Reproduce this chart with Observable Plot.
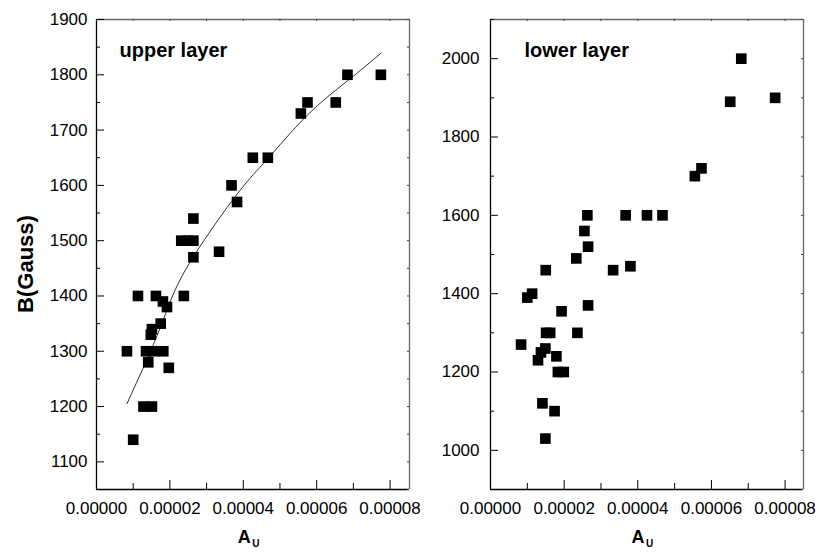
<!DOCTYPE html>
<html><head><meta charset="utf-8">
<script src="https://cdn.jsdelivr.net/npm/d3@7"></script>
<script src="https://cdn.jsdelivr.net/npm/@observablehq/plot@0.6"></script>
<style>
body{margin:0;background:#fff;}
#wrap{position:relative;width:827px;height:557px;font-family:Arial,"Liberation Sans",sans-serif;overflow:hidden;}
.panel{position:absolute;top:0;overflow:visible;}
</style></head><body><div id="wrap"></div>
<script>
// ---- data ----
const upperA = [0.83e-5,1.00e-5,1.13e-5,1.28e-5,1.35e-5,1.41e-5,1.48e-5,1.51e-5,1.51e-5,1.54e-5,1.62e-5,1.75e-5,1.81e-5,1.82e-5,1.92e-5,1.97e-5,2.31e-5,2.38e-5,2.49e-5,2.64e-5,2.64e-5,2.64e-5,3.34e-5,3.68e-5,3.83e-5,4.26e-5,4.67e-5,5.57e-5,5.75e-5,6.52e-5,6.84e-5,7.75e-5];
const upperB = [1300,1140,1400,1200,1300,1280,1330,1340,1200,1300,1400,1350,1390,1300,1380,1270,1500,1400,1500,1500,1540,1470,1480,1600,1570,1650,1650,1730,1750,1750,1800,1800];
const upperFitA = [0.83e-5,1.74e-5,2.44e-5,3.83e-5,4.64e-5,5.73e-5,6.84e-5,7.75e-5];
const upperFitB = [1205,1343,1449,1584,1646,1726,1789,1839];
const lowerA = [0.83e-5,1.00e-5,1.13e-5,1.29e-5,1.37e-5,1.41e-5,1.49e-5,1.49e-5,1.50e-5,1.51e-5,1.62e-5,1.74e-5,1.79e-5,1.83e-5,1.93e-5,1.99e-5,2.33e-5,2.36e-5,2.55e-5,2.63e-5,2.65e-5,2.65e-5,3.33e-5,3.67e-5,3.80e-5,4.25e-5,4.67e-5,5.55e-5,5.73e-5,6.51e-5,6.81e-5,7.73e-5];
const lowerB = [1270,1390,1400,1230,1250,1120,1260,1030,1460,1300,1300,1100,1240,1200,1355,1200,1490,1300,1560,1600,1520,1370,1460,1600,1470,1600,1600,1700,1720,1890,2000,1900];
const xMajorTicks = [0,2e-5,4e-5,6e-5,8e-5];
const xMinorTicks = [1e-5,3e-5,5e-5,7e-5];
const upperYMajor = [1100,1200,1300,1400,1500,1600,1700,1800,1900];
const upperYMinor = [1050,1150,1250,1350,1450,1550,1650,1750,1850];
const lowerYMajor = [1000,1200,1400,1600,1800,2000];
const lowerYMinor = [900,1100,1300,1500,1700,1900,2100];
const upperLabel = "upper layer";
const lowerLabel = "lower layer";
const yTitle = "B(Gauss)";
const xTitle = "A";
const xTitleSub = "U";

const H = 557, MT = 19, MB = 68;
function panel({left, width, ml, mr, xDomain, yDomain, A, B, fitA, fitB, yMajor, yMinor, label, labelDx, yPad}) {
  const innerW = width - ml - mr, innerH = H - MT - MB;
  const pts = A.map((a, i) => ({a, b: B[i]}));
  const marks = [];
  // frame
  marks.push(Plot.ruleY([yDomain[1]], {stroke: "#666", strokeWidth: 1.3}));
  marks.push(Plot.ruleX([xDomain[1]], {stroke: "#666", strokeWidth: 1.3}));
  marks.push(Plot.ruleX([xDomain[0]], {stroke: "#000", strokeWidth: 1.3}));
  marks.push(Plot.ruleY([yDomain[0]], {stroke: "#000", strokeWidth: 1.3}));
  // inward ticks
  marks.push(Plot.tickX(xMajorTicks, {x: d => d, insetTop: innerH - 9, stroke: "#000"}));
  marks.push(Plot.tickX(xMinorTicks, {x: d => d, insetTop: innerH - 6, stroke: "#000"}));
  marks.push(Plot.tickX(xMajorTicks.concat(xMinorTicks), {x: d => d, insetBottom: innerH - 2, stroke: "#444"}));
  marks.push(Plot.tickY(yMajor, {y: d => d, insetRight: innerW - 8, stroke: "#000"}));
  marks.push(Plot.tickY(yMinor, {y: d => d, insetRight: innerW - 4, stroke: "#000"}));
  marks.push(Plot.tickY(yMajor.concat(yMinor), {y: d => d, insetLeft: innerW - 2, stroke: "#444"}));
  // axes labels
  marks.push(Plot.axisX({ticks: xMajorTicks, tickSize: 0, tickPadding: 12, tickFormat: d3.format(".5f"), label: null, fontSize: 17}));
  marks.push(Plot.axisY({ticks: yMajor, tickSize: 0, tickPadding: yPad, tickFormat: d3.format("d"), label: null, fontSize: 17}));
  if (fitA) {
    const fit = fitA.map((a, i) => ({a, b: fitB[i]}));
    marks.push(Plot.line(fit, {x: "a", y: "b", curve: "natural", stroke: "#333", strokeWidth: 1}));
  }
  marks.push(Plot.dot(pts, {x: "a", y: "b", symbol: "square", r: 6, fill: "#000", stroke: "none"}));
  marks.push(Plot.text([label], {frameAnchor: "top-left", text: d => d, dx: labelDx, dy: 31.5, lineAnchor: "middle", textAnchor: "start", fontSize: 20, fontWeight: "bold", fill: "#000"}));
  const svg = Plot.plot({
    width, height: H, marginLeft: ml, marginRight: mr, marginTop: MT, marginBottom: MB,
    x: {domain: xDomain}, y: {domain: yDomain},
    style: {fontFamily: "Arial, 'Liberation Sans', sans-serif", fontSize: "17px", color: "#000", background: "transparent", overflow: "visible"},
    marks
  });
  svg.classList.add("panel");
  svg.style.left = left + "px";
  svg.style.overflow = "visible";
  return svg;
}
const wrap = document.getElementById("wrap");
wrap.appendChild(panel({left: 0, width: 413, ml: 96, mr: 4, xDomain: [0, 8.53e-5], yDomain: [1050, 1900], A: upperA, B: upperB, fitA: upperFitA, fitB: upperFitB, yMajor: upperYMajor, yMinor: upperYMinor, label: upperLabel, labelDx: 23, yPad: 9}));
wrap.appendChild(panel({left: 413, width: 414, ml: 77, mr: 24, xDomain: [0, 8.5e-5], yDomain: [900, 2100], A: lowerA, B: lowerB, yMajor: lowerYMajor, yMinor: lowerYMinor, label: lowerLabel, labelDx: 34, yPad: 11}));

// titles overlay
const ov = d3.select(wrap).append("svg").attr("width", 827).attr("height", 557)
  .style("position", "absolute").style("left", 0).style("top", 0)
  .style("font-family", "Arial, 'Liberation Sans', sans-serif");
ov.append("text").attr("transform", "translate(33,264) rotate(-90)").attr("text-anchor", "middle")
  .attr("font-size", 22).attr("font-weight", "bold").text(yTitle);
for (const cx of [252.7, 646.5]) {
  const t = ov.append("text").attr("x", cx - 15).attr("y", 543).attr("font-size", 18).attr("font-weight", "bold");
  t.append("tspan").text(xTitle);
  t.append("tspan").attr("dx", 1.5).attr("dy", 4).attr("font-size", 10).text(xTitleSub);
}
</script></body></html>
